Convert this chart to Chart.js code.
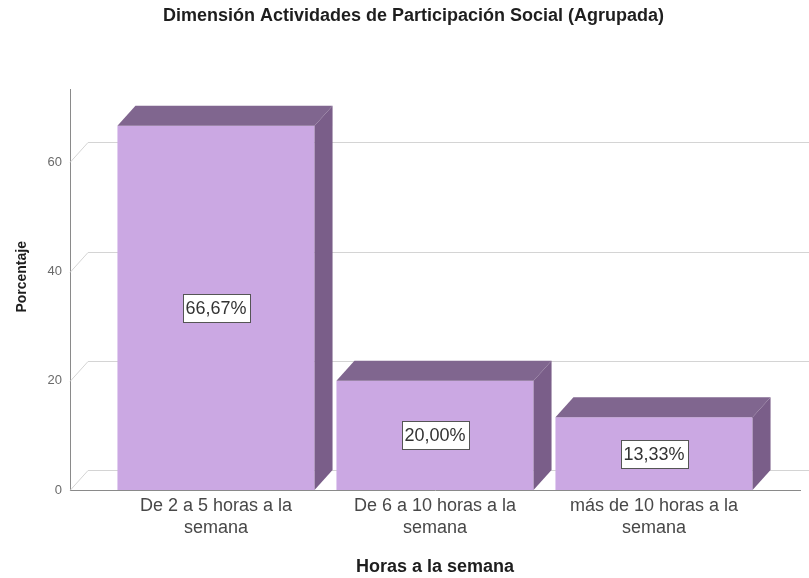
<!DOCTYPE html>
<html lang="es">
<head>
  <meta charset="UTF-8">
  <title>Dimensión Actividades de Participación Social (Agrupada)</title>
  <script src="https://cdn.jsdelivr.net/npm/chart.js"></script>
  <style>
    html, body { margin: 0; padding: 0; background: #ffffff; }
    canvas { display: block; }
  </style>
</head>
<body>
  <canvas id="grafico" width="809" height="578"></canvas>
  <script>
    // Datos
    const categorias = [
      ['De 2 a 5 horas a la', 'semana'],
      ['De 6 a 10 horas a la', 'semana'],
      ['más de 10 horas a la', 'semana']
    ];
    const porcentajes = [66.67, 20.00, 13.33];
    const posiciones = [0, 1, 2];
    const ticksY = [0, 20, 40, 60];

    const titulo = 'Dimensión Actividades de Participación Social (Agrupada)';
    const tituloX = 'Horas a la semana';
    const tituloY = 'Porcentaje';

    // Estilo
    const FUENTE = "'Liberation Sans', Arial, sans-serif";
    const colorFrente = '#cba8e3';
    const colorTapa = '#80668f';
    const colorLado = '#7a5e89';
    const colorRejilla = '#d4d4d4';
    const colorEje = '#8a8a8a';
    const PROF_X = 18, PROF_Y = -20;   // desplazamiento de la profundidad 3D

    // Plugin para la pared del fondo, las caras 3D y las etiquetas
    const efecto3D = {
      id: 'efecto3D',
      beforeDatasetsDraw(chart) {
        const {ctx, chartArea, scales: {y}} = chart;
        ctx.save();
        ctx.strokeStyle = colorRejilla;
        ctx.lineWidth = 1;
        ticksY.forEach(v => {
          const py = Math.round(y.getPixelForValue(v)) + 0.5;
          ctx.beginPath();
          ctx.moveTo(chartArea.left, py);
          ctx.lineTo(chartArea.left + PROF_X, py + PROF_Y);
          ctx.lineTo(chartArea.right + PROF_X, py + PROF_Y);
          ctx.stroke();
        });
        ctx.restore();
      },
      afterDatasetsDraw(chart) {
        const {ctx} = chart;
        const meta = chart.getDatasetMeta(0);
        ctx.save();
        meta.data.forEach((bar, i) => {
          const {x, y, base, width} = bar.getProps(['x', 'y', 'base', 'width'], true);
          const izq = x - width / 2, der = x + width / 2;
          // tapa superior
          ctx.fillStyle = colorTapa;
          ctx.beginPath();
          ctx.moveTo(izq, y);
          ctx.lineTo(izq + PROF_X, y + PROF_Y);
          ctx.lineTo(der + PROF_X, y + PROF_Y);
          ctx.lineTo(der, y);
          ctx.closePath();
          ctx.fill();
          // cara lateral
          ctx.fillStyle = colorLado;
          ctx.beginPath();
          ctx.moveTo(der, y);
          ctx.lineTo(der + PROF_X, y + PROF_Y);
          ctx.lineTo(der + PROF_X, base + PROF_Y);
          ctx.lineTo(der, base);
          ctx.closePath();
          ctx.fill();
          // etiqueta del valor
          const texto = porcentajes[i].toFixed(2).replace('.', ',') + '%';
          ctx.font = '18px ' + FUENTE;
          const ancho = Math.round(ctx.measureText(texto).width + 6);
          const alto = 28;
          const cy = (y + base) / 2;
          const bx = Math.round(x - ancho / 2) + 0.5, by = Math.round(cy - alto / 2) + 0.5;
          ctx.fillStyle = '#ffffff';
          ctx.fillRect(bx, by, ancho, alto);
          ctx.strokeStyle = '#555555';
          ctx.lineWidth = 1;
          ctx.strokeRect(bx, by, ancho, alto);
          ctx.fillStyle = '#333333';
          ctx.textAlign = 'center';
          ctx.textBaseline = 'middle';
          ctx.fillText(texto, x, cy + 1);
        });
        ctx.restore();
      },
      afterDraw(chart) {
        // título del eje Y
        const {ctx, chartArea} = chart;
        ctx.save();
        ctx.translate(22, (chartArea.top + PROF_Y + chartArea.bottom) / 2 - 3);
        ctx.rotate(-Math.PI / 2);
        ctx.font = 'bold 14px ' + FUENTE;
        ctx.fillStyle = '#1e1e1e';
        ctx.textAlign = 'center';
        ctx.textBaseline = 'middle';
        ctx.fillText(tituloY, 0, 0);
        ctx.restore();
      }
    };

    new Chart(document.getElementById('grafico'), {
      type: 'bar',
      data: {
        datasets: [{
          data: posiciones.map((p, i) => ({ x: p, y: porcentajes[i] })),
          backgroundColor: colorFrente,
          borderWidth: 0,
          barPercentage: 0.9,
          categoryPercentage: 1.0
        }]
      },
      options: {
        responsive: false,
        animation: false,
        layout: { padding: { left: 27, right: 9, top: 0, bottom: 0 } },
        plugins: {
          legend: { display: false },
          tooltip: { enabled: false },
          title: {
            display: true,
            text: titulo,
            color: '#1e1e1e',
            font: { family: FUENTE, size: 18, weight: 'bold' },
            padding: { top: 5, bottom: 63 }
          }
        },
        scales: {
          x: {
            type: 'linear',
            offset: false,
            min: -2 / 3,
            max: 8 / 3,
            afterBuildTicks: s => { s.ticks = posiciones.map(v => ({ value: v })); },
            afterFit: s => { s.height = 88; },
            grid: { display: false, drawTicks: false, offset: false },
            border: { display: true, color: colorEje, width: 1 },
            ticks: {
              autoSkip: false,
              maxRotation: 0,
              minRotation: 0,
              padding: 6,
              color: '#484848',
              font: { family: FUENTE, size: 18, lineHeight: 1.17 },
              callback: (v, i) => categorias[i]
            },
            title: {
              display: true,
              text: tituloX,
              color: '#1e1e1e',
              font: { family: FUENTE, size: 18, weight: 'bold' },
              padding: { top: 0, bottom: 0 }
            }
          },
          y: {
            min: 0,
            max: 73.3,
            afterBuildTicks: s => { s.ticks = ticksY.map(v => ({ value: v })); },
            afterFit: s => { s.width = 43; },
            grid: { display: false, drawTicks: false },
            border: { display: true, color: colorEje, width: 1 },
            ticks: {
              padding: 8,
              color: '#6a6a6a',
              font: { family: FUENTE, size: 13 }
            }
          }
        }
      },
      plugins: [efecto3D]
    });
  </script>
</body>
</html>
